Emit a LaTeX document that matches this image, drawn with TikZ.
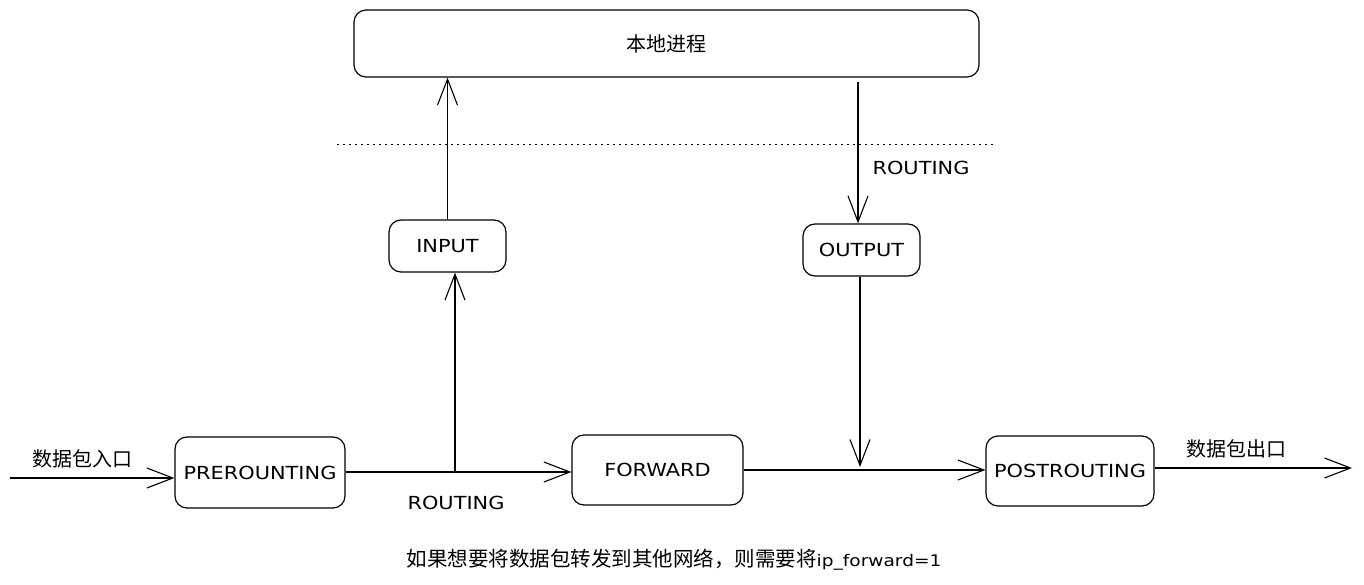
\documentclass[tikz,border=0pt]{standalone}
\usepackage{fontspec}
\setmainfont{DejaVu Sans}
\newfontfamily\cjk{Noto Sans CJK SC}
\newfontfamily\hand[FakeStretch=1.16]{DejaVu Sans}
\usetikzlibrary{arrows.meta}
\begin{document}
\begin{tikzpicture}[x=1pt,y=-1pt,
  box/.style={draw=black, line width=1.2pt, rounded corners=12pt, fill=white, inner sep=0pt},
  lbl/.style={font=\hand\fontsize{18}{20}\selectfont},
  cn/.style={font=\cjk\fontsize{20}{22}\selectfont},
  arr/.style={line width=1.1pt, -{Straight Barb[length=26pt,width=20pt,line width=1.1pt]}},
  ln/.style={line width=1.1pt}]
\useasboundingbox[fill=white] (0,0) rectangle (1364,585);
% boxes
\node[box, minimum width=625pt, minimum height=67pt, cn] (local) at (666.5,43.5) {本地进程};
\node[box, minimum width=117pt, minimum height=52pt, lbl] (input) at (447.5,246) {INPUT};
\node[box, minimum width=117pt, minimum height=52pt, lbl] (output) at (861.5,250) {OUTPUT};
\node[box, minimum width=170pt, minimum height=71pt, lbl] (pre) at (260,472.5) {PREROUNTING};
\node[box, minimum width=171pt, minimum height=70pt, lbl] (fwd) at (657.5,470) {FORWARD};
\node[box, minimum width=168pt, minimum height=70pt, lbl] (post) at (1070,471) {POSTROUTING};
% coordinates
\coordinate (inL) at (10,478);
\coordinate (br) at (455,472);
\coordinate (oTop) at (858,82);
\coordinate (oj) at (860,467);
\coordinate (outR) at (1352,468);
\coordinate (dotL) at (337,145);
\coordinate (dotR) at (995,145);
% connectors
\draw[arr] (inL) -- (inL -| pre.west);
\draw[arr] (pre.east |- br) -- (br -| fwd.west);
\draw[arr] (br) -- (br |- input.south);
\draw[arr] (input.north) -- (input.north |- local.south);
\draw[arr] (oTop) -- (oTop |- output.north);
\draw[arr] (output.south -| oj) -- (oj);
\draw[arr] (fwd.east) -- (fwd.east -| post.west);
\draw[arr] (outR -| post.east) -- (outR);
\draw[line width=1pt, dash pattern=on 1.5pt off 4.5pt] (dotL) -- (dotR);
% labels
\node[lbl] (r1) at (456,503) {ROUTING};
\node[lbl] (r2) at (921,168) {ROUTING};
\node[cn] (inlab) at (82.5,459) {数据包入口};
\node[cn] (outlab) at (1236,449) {数据包出口};
\node[font=\cjk\fontsize{20.5}{22}\selectfont] (note) at (674,560) {如果想要将数据包转发到其他网络，则需要将{\hand\fontsize{16}{18}\selectfont ip\_forward=1}};
\end{tikzpicture}
\end{document}
